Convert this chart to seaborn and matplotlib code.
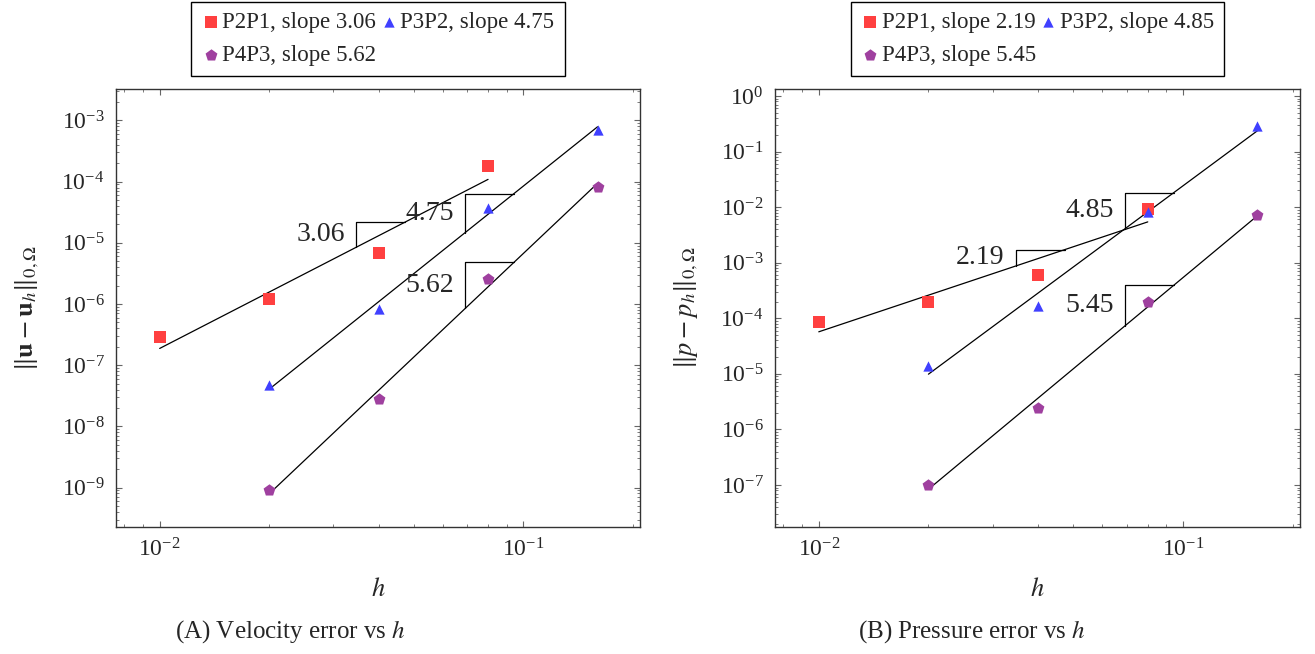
import numpy as np
import pandas as pd
import matplotlib
matplotlib.use("Agg")
import matplotlib.pyplot as plt
from matplotlib.ticker import LogLocator, NullFormatter, LogFormatterMathtext
import seaborn as sns

# ---------------- data ----------------
h_vals = [0.01, 0.02, 0.04, 0.08, 0.16]

vel_p2p1_h = [0.01, 0.02, 0.04, 0.08]
vel_p2p1 = [2.9e-7, 1.2e-6, 6.7e-6, 1.8e-4]
vel_p3p2_h = [0.02, 0.04, 0.08, 0.16]
vel_p3p2 = [4.8e-8, 8.3e-7, 3.7e-5, 6.9e-4]
vel_p4p3_h = [0.02, 0.04, 0.08, 0.16]
vel_p4p3 = [9.2e-10, 2.8e-8, 2.6e-6, 8.2e-5]
vel_slopes = [3.06, 4.75, 5.62]

pre_p2p1_h = [0.01, 0.02, 0.04, 0.08]
pre_p2p1 = [8.6e-5, 2.0e-4, 6.0e-4, 9.3e-3]
pre_p3p2_h = [0.02, 0.04, 0.08, 0.16]
pre_p3p2 = [1.4e-5, 1.66e-4, 8.1e-3, 0.29]
pre_p4p3_h = [0.02, 0.04, 0.08, 0.16]
pre_p4p3 = [1.0e-7, 2.4e-6, 2.0e-4, 7.2e-3]
pre_slopes = [2.19, 4.85, 5.45]

series_names = ["P2P1", "P3P2", "P4P3"]
# slope-triangle anchor positions (h at left vertex) for each series
tri_h = [0.0347, 0.0692, 0.0692]
tri_ratio = 1.363

colors = ["#FF4040", "#4040FF", "#9F409F"]
markers = ["s", "^", "p"]
sizes = [72, 55, 80]

# ---------------- style ----------------
sns.set_theme(style="ticks")
plt.rcParams["font.family"] = ["Liberation Serif", "DejaVu Serif"]
plt.rcParams["mathtext.fontset"] = "stix"
plt.rcParams["axes.linewidth"] = 1.0
plt.rcParams["axes.edgecolor"] = "#333333"

fig = plt.figure(figsize=(13.15, 6.54), dpi=100)
W, H = 1315, 654
ax_bottom = (H - 526.7) / H
ax_h = (526.7 - 89.3) / H
ax1 = fig.add_axes([115.7 / W, ax_bottom, (640 - 115.7) / W, ax_h])
ax2 = fig.add_axes([774.7 / W, ax_bottom, (1300 - 774.7) / W, ax_h])


def draw(ax, hs, ys, slopes, ylim, ylabel):
    handles = []
    for i in range(3):
        df = pd.DataFrame({"h": hs[i], "err": ys[i]})
        lh = np.log10(df["h"].values)
        ly = np.log10(df["err"].values)
        s = slopes[i]
        b = np.mean(ly - s * lh)
        hf = np.array([df["h"].min(), df["h"].max()])
        fit = pd.DataFrame({"h": hf, "err": 10 ** (b + s * np.log10(hf))})
        sns.lineplot(data=fit, x="h", y="err", ax=ax, color="black", lw=0.9,
                     zorder=2, legend=False)
        sc = ax.scatter(df["h"], df["err"], marker=markers[i], s=sizes[i],
                        color=colors[i], linewidths=0, zorder=3,
                        label=f"{series_names[i]}, slope {s:.2f}")
        handles.append(sc)
        # slope triangle
        x1 = tri_h[i]
        x2 = x1 * tri_ratio
        y1 = 10 ** (b + s * np.log10(x1))
        y2 = 10 ** (b + s * np.log10(x2))
        ax.plot([x1, x1, x2], [y1, y2, y2], color="black", lw=0.9, zorder=2)
        ax.annotate(f"{s:.2f}", xy=(x1, np.sqrt(y1 * y2)), xytext=(-11, 0),
                    textcoords="offset pixels", ha="right", va="center",
                    fontsize=20)
    ax.set_xscale("log")
    ax.set_yscale("log")
    ax.set_xlim(10 ** -2.121, 10 ** -0.679)
    ax.set_ylim(10 ** ylim[0], 10 ** ylim[1])
    ax.xaxis.set_major_locator(LogLocator(base=10, numticks=20))
    ax.yaxis.set_major_locator(LogLocator(base=10, numticks=20))
    ax.xaxis.set_minor_locator(LogLocator(base=10, subs=np.arange(2, 10), numticks=20))
    ax.yaxis.set_minor_locator(LogLocator(base=10, subs=np.arange(2, 10), numticks=20))
    ax.xaxis.set_minor_formatter(NullFormatter())
    ax.yaxis.set_minor_formatter(NullFormatter())
    ax.xaxis.set_major_formatter(LogFormatterMathtext())
    ax.yaxis.set_major_formatter(LogFormatterMathtext())
    ax.tick_params(which="both", direction="in", top=True, right=True,
                   color="#666666", labelsize=17)
    ax.tick_params(which="major", length=4.5, width=0.8, pad=8)
    ax.tick_params(which="minor", length=2.3, width=0.6)
    ax.set_xlabel("$h$", fontsize=19, labelpad=12)
    ax.set_ylabel(ylabel, fontsize=19, labelpad=15)
    order = [0, 2, 1]
    leg = ax.legend(handles=[handles[k] for k in order],
                    labels=[f"{series_names[k]}, slope {slopes[k]:.2f}" for k in order],
                    ncol=2, loc="lower center", bbox_to_anchor=(0.5, 1.03),
                    frameon=True, fancybox=False, edgecolor="black",
                    framealpha=1, fontsize=16.5, handletextpad=0.1,
                    columnspacing=0.15, handlelength=0.8, borderpad=0.45,
                    labelspacing=0.5, borderaxespad=0)
    leg.get_frame().set_linewidth(1.0)


draw(ax1, [vel_p2p1_h, vel_p3p2_h, vel_p4p3_h], [vel_p2p1, vel_p3p2, vel_p4p3],
     vel_slopes, (-9.64, -2.49), r"$\|\mathbf{u}-\mathbf{u}_h\|_{0,\Omega}$")
draw(ax2, [pre_p2p1_h, pre_p3p2_h, pre_p4p3_h], [pre_p2p1, pre_p3p2, pre_p4p3],
     pre_slopes, (-7.75, 0.12), r"$\|p-p_h\|_{0,\Omega}$")

fig.text(290 / W, 1 - 632 / H, "(A) Velocity error vs $h$", ha="center",
         va="center", fontsize=18)
fig.text(972 / W, 1 - 632 / H, "(B) Pressure error vs $h$", ha="center",
         va="center", fontsize=18)

fig.savefig("out.png", dpi=100)
